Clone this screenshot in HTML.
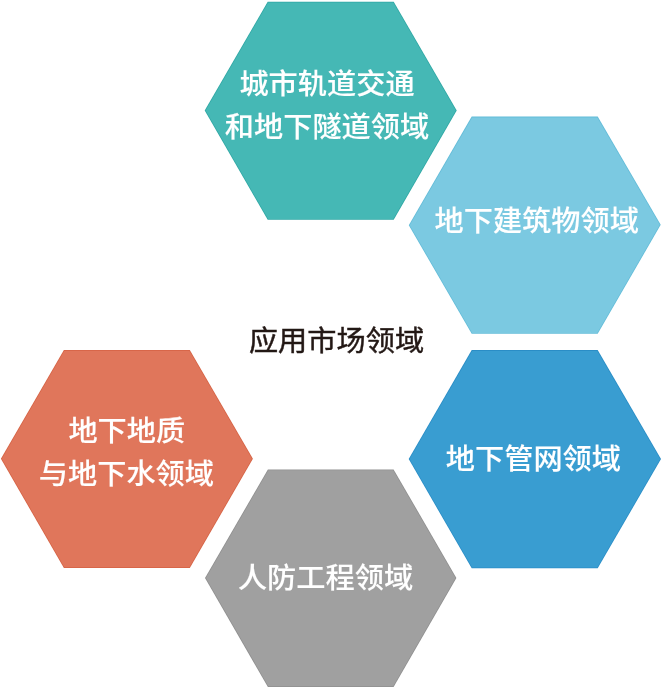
<!DOCTYPE html>
<html lang="zh-CN">
<head>
<meta charset="utf-8">
<title>应用市场领域</title>
<style>
html,body{margin:0;padding:0;background:#fff;}
body{width:662px;height:688px;overflow:hidden;}
svg{display:block;will-change:transform;}
text{font-family:"Liberation Sans","Noto Sans CJK SC",sans-serif;}
.w{fill:#fff;font-size:29.2px;font-weight:500;stroke:#fff;stroke-width:0.1px;}
.c{fill:#231815;font-size:29.2px;font-weight:400;stroke:#231815;stroke-width:0.45px;}
</style>
</head>
<body>
<svg width="662" height="688" viewBox="0 0 662 688">
  <rect width="662" height="688" fill="#fff"/>
  <polygon fill="#2ea7a4" points="204.7,110.6 267.7,1.7 393.7,1.7 456.7,110.6 393.7,219.8 267.7,219.8"/>
  <polygon fill="#45b8b5" points="205.60,110.60 268.15,2.48 393.25,2.48 455.80,110.60 393.25,219.02 268.15,219.02"/>
  <polygon fill="#63bcd8" points="408.8,225.2 471.7,116.6 597.7,116.6 660.7,224.8 597.7,333.8 471.7,333.8"/>
  <polygon fill="#7bc9e1" points="409.70,225.20 472.15,117.38 597.25,117.38 659.80,224.80 597.25,333.02 472.15,333.02"/>
  <polygon fill="#2a8dc6" points="408.7,459.1 471.7,350.1 597.7,350.1 661,459.1 597.7,568.2 471.7,568.2"/>
  <polygon fill="#399dd1" points="409.60,459.10 472.15,350.88 597.25,350.88 660.10,459.10 597.25,567.42 472.15,567.42"/>
  <polygon fill="#8f8f8f" points="205,578.1 267.9,469.4 393.6,469.4 456.4,578 393.6,687 267.9,687"/>
  <polygon fill="#a0a0a0" points="205.90,578.10 268.35,470.18 393.15,470.18 455.50,578.00 393.15,686.22 268.35,686.22"/>
  <polygon fill="#d66243" points="0.9,458.8 63.9,349.9 189.8,349.9 252.9,458.8 189.8,568 63.9,568"/>
  <polygon fill="#e0765b" points="1.80,458.80 64.35,350.68 189.35,350.68 252.00,458.80 189.35,567.22 64.35,567.22"/>
  <text class="w" id="t1a" transform="translate(327,94) scale(1,0.975)" text-anchor="middle">城市轨道交通</text>
  <text class="w" id="t1b" transform="translate(327,137) scale(1,0.975)" text-anchor="middle">和地下隧道领域</text>
  <text class="w" id="t2" transform="translate(536.7,231) scale(1,0.975)" text-anchor="middle">地下建筑物领域</text>
  <text class="w" id="t3" transform="translate(533.4,469) scale(1,0.975)" text-anchor="middle">地下管网领域</text>
  <text class="w" id="t4" transform="translate(325.5,588.2) scale(1,0.975)" text-anchor="middle">人防工程领域</text>
  <text class="w" id="t5a" transform="translate(126.8,440.5) scale(1,0.975)" text-anchor="middle">地下地质</text>
  <text class="w" id="t5b" transform="translate(126.4,484) scale(1,0.975)" text-anchor="middle">与地下水领域</text>
  <text class="c" id="tc" transform="translate(336.5,350.7) scale(1,0.955)" text-anchor="middle">应用市场领域</text>
</svg>
</body>
</html>
